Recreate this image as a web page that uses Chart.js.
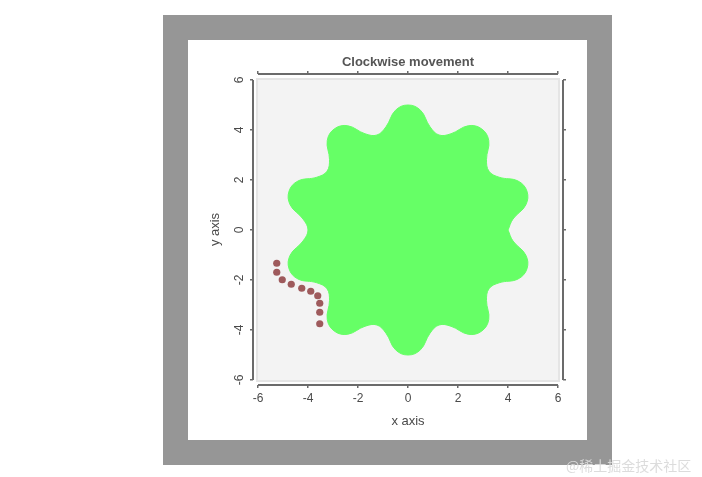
<!DOCTYPE html>
<html>
<head>
<meta charset="utf-8">
<title>Clockwise movement</title>
<script src="https://cdn.jsdelivr.net/npm/chart.js@4/dist/chart.umd.min.js"></script>
<style>
  body {
    margin: 0;
    width: 702px;
    height: 477px;
    background: #fff;
    position: relative;
    overflow: hidden;
    font-family: "Liberation Sans", Arial, sans-serif;
  }
  .frame { position: absolute; left: 163px; top: 15px; width: 449px; height: 450px; background: #969696; }
  .inner { position: absolute; left: 188px; top: 40px; width: 399px; height: 400px; background: #fff; }
  #chart { position: absolute; left: 0; top: 0; }
  .mark {
    position: absolute;
    left: 566px;
    top: 455px;
    font-size: 14px;
    font-family: "Noto Sans CJK SC", sans-serif;
    color: rgba(218, 218, 218, 0.95);
  }
</style>
</head>
<body>
<div class="frame"></div>
<div class="inner"></div>
<canvas id="chart" width="702" height="477"></canvas>
<div class="mark">@稀土掘金技术社区</div>

<script>
// tick labels
const xTicks = [-6, -4, -2, 0, 2, 4, 6];
const yTicks = [-6, -4, -2, 0, 2, 4, 6];

// outline of the green shape
const starX = [4.00, 4.20, 4.71, 4.76, 4.40, 3.65, 3.24, 3.14, 3.23, 2.94, 2.41, 1.72, 1.24, 0.88, 0.50, 0.00,
  -0.50, -0.88, -1.24, -1.72, -2.41, -2.94, -3.23, -3.14, -3.24, -3.65, -4.40, -4.76, -4.71, -4.20, -4.00,
  -4.20, -4.71, -4.76, -4.40, -3.65, -3.24, -3.14, -3.23, -2.94, -2.41, -1.72, -1.24, -0.88, -0.50, 0.00,
  0.50, 0.88, 1.24, 1.72, 2.41, 2.94, 3.23, 3.14, 3.24, 3.65, 4.40, 4.76, 4.71, 4.20, 4.00];
const starY = [0.00, 0.44, 1.00, 1.55, 1.96, 2.11, 2.35, 2.82, 3.58, 4.05, 4.17, 3.85, 3.80, 4.13, 4.79, 5.00,
  4.79, 4.13, 3.80, 3.85, 4.17, 4.05, 3.58, 2.82, 2.35, 2.11, 1.96, 1.55, 1.00, 0.44, 0.00,
  -0.44, -1.00, -1.55, -1.96, -2.11, -2.35, -2.82, -3.58, -4.05, -4.17, -3.85, -3.80, -4.13, -4.79, -5.00,
  -4.79, -4.13, -3.80, -3.85, -4.17, -4.05, -3.58, -2.82, -2.35, -2.11, -1.96, -1.55, -1.00, -0.44, 0.00];

// brown points
const dotX = [-5.25, -5.25, -5.03, -4.67, -4.25, -3.89, -3.61, -3.53, -3.53, -3.53];
const dotY = [-1.33, -1.69, -1.99, -2.17, -2.33, -2.45, -2.63, -2.93, -3.29, -3.75];

const axisColor = "#6b6b6b";
const textColor = "#4a4a4a";

Chart.defaults.font.family = '"Liberation Sans", Arial, sans-serif';

// fixed tick positions
function fixedTicks(list) {
  return (scale) => {
    scale.ticks = list.map((v) => ({ value: v }));
  };
}

// light gray plot panel behind the data
const panel = {
  id: "panel",
  beforeDatasetsDraw(chart) {
    const { ctx, scales } = chart;
    const l = scales.x.getPixelForValue(-6.08);
    const r = scales.x.getPixelForValue(6.08);
    const t = scales.y.getPixelForValue(6.08);
    const b = scales.y.getPixelForValue(-6.08);
    ctx.save();
    ctx.fillStyle = "#f3f3f3";
    ctx.fillRect(l, t, r - l, b - t);
    ctx.strokeStyle = "#e5e5e5";
    ctx.lineWidth = 2;
    ctx.strokeRect(l + 1, t + 1, r - l - 2, b - t - 2);
    ctx.restore();
  },
};

// axis lines only from first to last tick (open corners)
const axisLines = {
  id: "axisLines",
  afterDraw(chart) {
    const { ctx, chartArea: a, scales } = chart;
    const x0 = scales.x.getPixelForValue(xTicks[0]);
    const x1 = scales.x.getPixelForValue(xTicks[xTicks.length - 1]);
    const y0 = scales.y.getPixelForValue(yTicks[yTicks.length - 1]);
    const y1 = scales.y.getPixelForValue(yTicks[0]);
    ctx.save();
    ctx.strokeStyle = axisColor;
    ctx.lineWidth = 2;
    ctx.beginPath();
    ctx.moveTo(x0, a.bottom); ctx.lineTo(x1, a.bottom);
    ctx.moveTo(x0, a.top); ctx.lineTo(x1, a.top);
    ctx.moveTo(a.left, y0); ctx.lineTo(a.left, y1);
    ctx.moveTo(a.right, y0); ctx.lineTo(a.right, y1);
    ctx.stroke();
    ctx.restore();
  },
};

const axisGrid = { drawOnChartArea: false, drawTicks: true, tickLength: 3, color: axisColor, lineWidth: 1.5 };
const axisBorder = { display: false };

const chart = new Chart(document.getElementById("chart"), {
  type: "scatter",
  data: {
    datasets: [
      {
        label: "points",
        data: dotX.map((x, i) => ({ x: x, y: dotY[i] })),
        backgroundColor: "#9e5a5c",
        borderWidth: 0,
        pointRadius: 3.6,
      },
      {
        type: "line",
        label: "shape",
        data: starX.map((x, i) => ({ x: x, y: starY[i] })),
        fill: "shape",
        backgroundColor: "#66ff66",
        borderColor: "#66ff66",
        borderWidth: 1,
        pointRadius: 0,
        tension: 0.4,
      },
    ],
  },
  options: {
    responsive: false,
    animation: false,
    devicePixelRatio: 1,
    layout: { padding: { left: 200, right: 135, top: 54.4, bottom: 42 } },
    plugins: {
      legend: { display: false },
      tooltip: { enabled: false },
      title: {
        display: true,
        text: "Clockwise movement",
        fullSize: false,
        color: "#555",
        font: { size: 13, weight: "bold" },
        padding: { top: 0, bottom: 0 },
      },
    },
    scales: {
      x: {
        type: "linear",
        position: "bottom",
        min: -6.2,
        max: 6.2,
        afterBuildTicks: fixedTicks(xTicks),
        afterFit: (s) => { s.height = 50; },
        grid: axisGrid,
        border: axisBorder,
        ticks: { color: textColor, padding: 3, font: { size: 12 }, maxRotation: 0 },
        title: { display: true, text: "x axis", color: textColor, font: { size: 13 }, padding: { top: 0, bottom: 6 } },
      },
      x2: {
        type: "linear",
        position: "top",
        min: -6.2,
        max: 6.2,
        afterBuildTicks: fixedTicks(xTicks),
        afterFit: (s) => { s.height = 4; },
        grid: axisGrid,
        border: axisBorder,
        ticks: { display: false },
      },
      y: {
        type: "linear",
        position: "left",
        min: -6.2,
        max: 6.24,
        afterBuildTicks: fixedTicks(yTicks),
        afterFit: (s) => { s.width = 53; },
        grid: axisGrid,
        border: axisBorder,
        ticks: { color: textColor, padding: 5, font: { size: 12 }, minRotation: 90, maxRotation: 90, crossAlign: "center" },
        title: { display: true, text: "y axis", color: textColor, font: { size: 13 }, padding: { top: 8, bottom: 0 } },
      },
      y2: {
        type: "linear",
        position: "right",
        min: -6.2,
        max: 6.24,
        afterBuildTicks: fixedTicks(yTicks),
        afterFit: (s) => { s.width = 4; },
        grid: axisGrid,
        border: axisBorder,
        ticks: { display: false },
      },
    },
  },
  plugins: [panel, axisLines],
});
</script>
</body>
</html>
